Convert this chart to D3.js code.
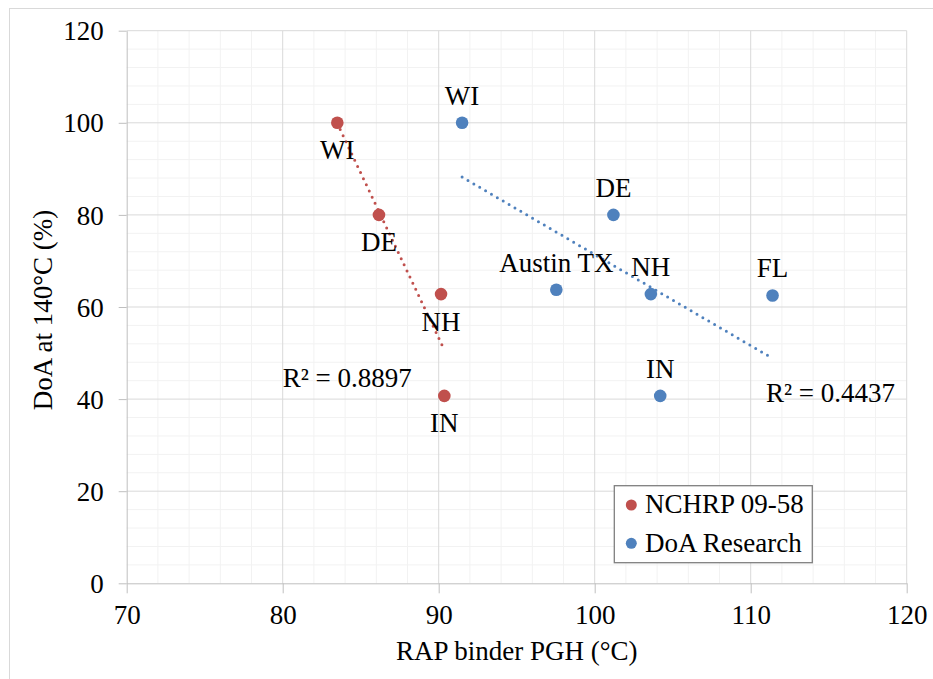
<!DOCTYPE html>
<html>
<head>
<meta charset="utf-8">
<script src="https://cdn.jsdelivr.net/npm/d3@7"></script>
<style>
  svg text { font-family: 'Liberation Serif', 'Times New Roman', serif !important; }
</style>
</head>
<body style="margin:0; background:#fff">
<div id="chart"></div>
<script>
// data
const nchrp_x = [83.5, 86.17, 90.15, 90.36];
const nchrp_y = [100, 80, 62.8, 40.7];
const nchrp_labels = ["WI", "DE", "NH", "IN"];

const doa_x = [91.5, 101.2, 97.54, 103.6, 111.4, 104.2];
const doa_y = [100, 80, 63.75, 62.8, 62.5, 40.7];
const doa_labels = ["WI", "DE", "Austin TX", "NH", "FL", "IN"];

const x_ticks = [70, 80, 90, 100, 110, 120];
const y_ticks = [0, 20, 40, 60, 80, 100, 120];

const series_names = ["NCHRP 09-58", "DoA Research"];
const r2_labels = ["R\u00b2 = 0.8897", "R\u00b2 = 0.4437"];

// Env params
const svg_width = 933, svg_height = 679;
const plot_left = 126.7, plot_right = 906.7, plot_top = 30.7, plot_bottom = 583.3;
const red = "#C0504D", blue = "#4F81BD";
const font = "'Liberation Serif', 'Times New Roman', serif";
const fs = 27;

var svg = d3.select("#chart").append("svg")
  .attr("width", svg_width)
  .attr("height", svg_height)
  .attr("font-family", font);

// put serif font on a text selection
function serif(sel) {
  return sel.style("font-family", font, "important")
    .style("font-size", fs + "px", "important")
    .attr("fill", "#000");
}

// outer chart border
svg.append("rect")
  .attr("x", 9.5).attr("y", 8.5)
  .attr("width", 940).attr("height", 700)
  .attr("fill", "#fff")
  .attr("stroke", "#d9d9d9");

var x = d3.scaleLinear().domain([70, 120]).range([plot_left, plot_right]);
var y = d3.scaleLinear().domain([0, 120]).range([plot_bottom, plot_top]);

// minor grid
svg.append("g").selectAll("line")
  .data(d3.range(70, 121, 2).filter(v => v % 10 != 0))
  .enter().append("line")
  .attr("x1", d => x(d)).attr("x2", d => x(d))
  .attr("y1", plot_top).attr("y2", plot_bottom)
  .attr("stroke", "#f2f2f2");
svg.append("g").selectAll("line")
  .data(d3.range(0, 121, 4).filter(v => v % 20 != 0))
  .enter().append("line")
  .attr("y1", d => y(d)).attr("y2", d => y(d))
  .attr("x1", plot_left).attr("x2", plot_right)
  .attr("stroke", "#f2f2f2");

// major grid
svg.append("g").selectAll("line")
  .data(x_ticks.slice(1))
  .enter().append("line")
  .attr("x1", d => x(d)).attr("x2", d => x(d))
  .attr("y1", plot_top).attr("y2", plot_bottom)
  .attr("stroke", "#d9d9d9");
svg.append("g").selectAll("line")
  .data(y_ticks.slice(1))
  .enter().append("line")
  .attr("y1", d => y(d)).attr("y2", d => y(d))
  .attr("x1", plot_left).attr("x2", plot_right)
  .attr("stroke", "#d9d9d9");

// axes
var xAxis = svg.append("g")
  .attr("transform", `translate(0,${plot_bottom})`)
  .call(d3.axisBottom(x).tickValues(x_ticks).tickSize(10).tickPadding(12).tickSizeOuter(0));
var yAxis = svg.append("g")
  .attr("transform", `translate(${plot_left},0)`)
  .call(d3.axisLeft(y).tickValues(y_ticks).tickSize(8).tickPadding(15).tickSizeOuter(0));
[xAxis, yAxis].forEach(a => {
  a.attr("font-family", font).attr("font-size", fs);
  a.select(".domain").attr("stroke", "#bfbfbf");
  a.selectAll(".tick line").attr("stroke", "#bfbfbf");
  serif(a.selectAll(".tick text"));
});
xAxis.selectAll(".tick text").attr("dy", "0.71em");
yAxis.selectAll(".tick text").attr("dy", "0.34em");

// axis titles
serif(svg.append("text"))
  .attr("x", (plot_left + plot_right) / 2)
  .attr("y", 660)
  .attr("text-anchor", "middle")
  .text("RAP binder PGH (\u00b0C)");
serif(svg.append("text"))
  .attr("transform", `translate(52, ${(plot_top + plot_bottom) / 2 + 3}) rotate(-90)`)
  .attr("text-anchor", "middle")
  .text("DoA at 140\u00b0C (%)");

// linear trend from the data
function fit(xs, ys) {
  var mx = d3.mean(xs), my = d3.mean(ys);
  var sxy = d3.sum(xs, (v, i) => (v - mx) * (ys[i] - my));
  var sxx = d3.sum(xs, v => (v - mx) * (v - mx));
  var b = sxy / sxx;
  return v => my + b * (v - mx);
}

function draw_series(xs, ys, labels, color, labelDy) {
  var f = fit(xs, ys);
  var ext = d3.extent(xs);
  svg.append("line")
    .attr("x1", x(ext[0])).attr("y1", y(f(ext[0])))
    .attr("x2", x(ext[1])).attr("y2", y(f(ext[1])))
    .attr("stroke", color)
    .attr("stroke-width", 3)
    .attr("stroke-linecap", "round")
    .attr("stroke-dasharray", "0 6.8");

  var pts = xs.map((v, i) => ({x: v, y: ys[i], label: labels[i]}));
  svg.append("g").selectAll("circle")
    .data(pts).enter().append("circle")
    .attr("cx", d => x(d.x)).attr("cy", d => y(d.y))
    .attr("r", 6.3)
    .attr("fill", color);

  serif(svg.append("g").selectAll("text")
    .data(pts).enter().append("text"))
    .attr("x", d => x(d.x))
    .attr("y", d => y(d.y) + labelDy)
    .attr("text-anchor", "middle")
    .text(d => d.label);
}

draw_series(nchrp_x, nchrp_y, nchrp_labels, red, 36.5);
draw_series(doa_x, doa_y, doa_labels, blue, -18);

// R² labels
serif(svg.append("text"))
  .attr("x", 282.7).attr("y", 387)
  .text(r2_labels[0]);
serif(svg.append("text"))
  .attr("x", 766).attr("y", 401.7)
  .text(r2_labels[1]);

// legend
var legend = svg.append("g").attr("transform", "translate(614.3, 485.7)");
legend.append("rect")
  .attr("width", 198).attr("height", 77)
  .attr("fill", "#fff")
  .attr("stroke", "#7f7f7f")
  .attr("stroke-width", 1.3);
[red, blue].forEach((c, i) => {
  legend.append("circle")
    .attr("cx", 17).attr("cy", 19.3 + i * 38.3)
    .attr("r", 5.5)
    .attr("fill", c);
  serif(legend.append("text"))
    .attr("x", 30.7).attr("y", 27.8 + i * 38.3)
    .text(series_names[i]);
});
</script>
</body>
</html>
